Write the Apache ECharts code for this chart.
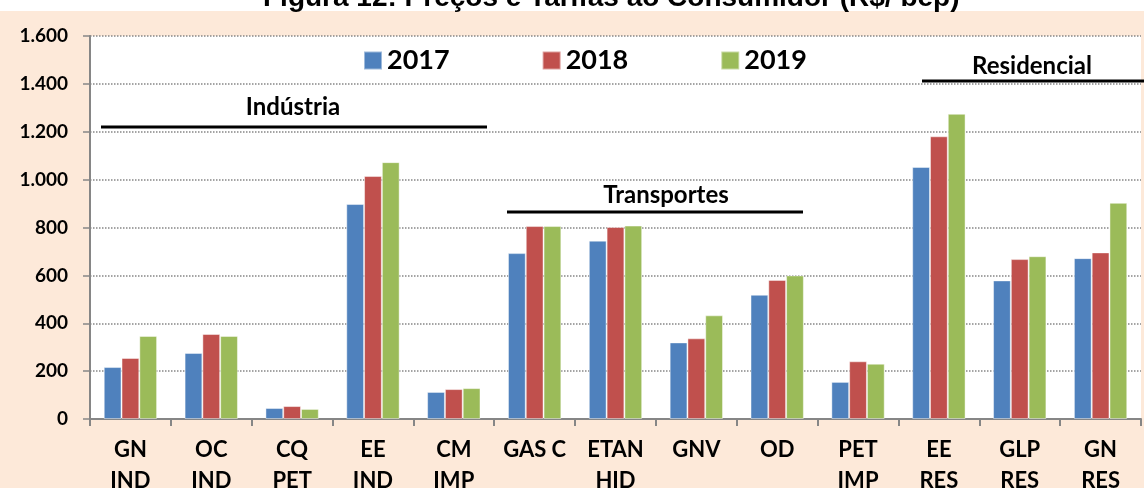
<!DOCTYPE html>
<html>
<head>
<meta charset="utf-8">
<script src="https://cdn.jsdelivr.net/npm/echarts@6/dist/echarts.min.js"></script>
<style>
  html, body { margin: 0; padding: 0; background: #ffffff; }
  #main { width: 1144px; height: 488px; }
</style>
</head>
<body>
<div id="main"></div>
<script>
// categorias e valores (R$/bep)
var categories = ['GN\nIND', 'OC\nIND', 'CQ\nPET', 'EE\nIND', 'CM\nIMP', 'GAS C', 'ETAN\nHID', 'GNV', 'OD', 'PET\nIMP', 'EE\nRES', 'GLP\nRES', 'GN\nRES'];
var years = ['2017', '2018', '2019'];
var values2017 = [217, 276, 46, 898, 113, 693, 745, 320, 519, 155, 1053, 579, 672];
var values2018 = [255, 355, 54, 1015, 125, 806, 802, 337, 581, 241, 1181, 668, 696];
var values2019 = [347, 347, 42, 1073, 129, 806, 808, 433, 600, 231, 1275, 680, 903];
var colors = ['#4F81BD', '#C0504D', '#9BBB59'];
var yTicks = [0, 200, 400, 600, 800, 1000, 1200, 1400, 1600];

function fmtMil(v) {
    return String(v).replace(/\B(?=(\d{3})+(?!\d))/g, '.');
}

var font = 'Lato, "Open Sans", sans-serif';

function grupo(texto, cx, ty, x1, x2, ly) {
    return [{
        type: 'text',
        x: cx, y: ty,
        style: { text: texto, font: 'bold 24px ' + font, fill: '#000', align: 'center', verticalAlign: 'middle' },
        z: 20
    }, {
        type: 'line',
        shape: { x1: x1, y1: ly, x2: x2, y2: ly },
        style: { stroke: '#000', lineWidth: 3 },
        z: 20
    }];
}

var serie = function (name, data, color) {
    return {
        name: name,
        type: 'bar',
        data: data,
        barGap: 0,
        barCategoryGap: '34%',
        itemStyle: { color: color, borderColor: 'rgba(255,255,255,0.45)', borderWidth: 1 }
    };
};

var option = {
    backgroundColor: '#ffffff',
    animation: false,
    title: {
        text: 'Figura 12: Preços e Tarifas ao Consumidor (R$/ bep)',
        left: 258,
        top: -21,
        textStyle: { fontFamily: '"Liberation Sans", Arial, sans-serif', fontWeight: 'bold', fontSize: 28, color: '#000' }
    },
    legend: {
        data: years,
        left: 358,
        top: 42,
        itemGap: 92,
        itemWidth: 18,
        itemHeight: 18,
        icon: 'rect',
        textStyle: { fontFamily: font, fontWeight: 'bold', fontSize: 27, color: '#000' }
    },
    grid: {
        left: 90, top: 36, right: 3, bottom: 69,
        outerBoundsMode: 'none',
        containLabel: false,
        show: true, backgroundColor: '#ffffff', borderWidth: 0
    },
    xAxis: {
        type: 'category',
        data: categories,
        axisLine: { lineStyle: { color: '#868686', width: 2 } },
        axisTick: { show: true, interval: 0, length: 7, lineStyle: { color: '#868686', width: 2 } },
        axisLabel: {
            interval: 0, margin: 15, color: '#000',
            fontFamily: font, fontWeight: 'bold', fontSize: 22, lineHeight: 31
        }
    },
    yAxis: {
        type: 'value',
        min: yTicks[0],
        max: yTicks[yTicks.length - 1],
        interval: 200,
        axisLine: { show: true, lineStyle: { color: '#868686', width: 2 } },
        axisTick: { show: true, length: 7, lineStyle: { color: '#868686', width: 1.5 } },
        splitLine: { lineStyle: { color: '#868686', type: 'dotted', width: 1.5 } },
        axisLabel: {
            margin: 22, color: '#000',
            fontFamily: font, fontWeight: 'bold', fontSize: 19,
            formatter: fmtMil
        }
    },
    graphic: [{
        type: 'rect',
        shape: { x: 0, y: 11, width: 1144, height: 477 },
        style: { fill: '#FDE9D9' },
        z: -10,
        silent: true
    }].concat(
        grupo('Indústria', 293, 107, 101, 487, 127),
        grupo('Transportes', 666, 195, 507, 803, 212),
        grupo('Residencial', 1032, 66, 922, 1144, 81)
    ),
    series: [
        serie(years[0], values2017, colors[0]),
        serie(years[1], values2018, colors[1]),
        serie(years[2], values2019, colors[2])
    ]
};

var myChart = echarts.init(document.getElementById('main'));
myChart.setOption(option);
</script>
</body>
</html>
